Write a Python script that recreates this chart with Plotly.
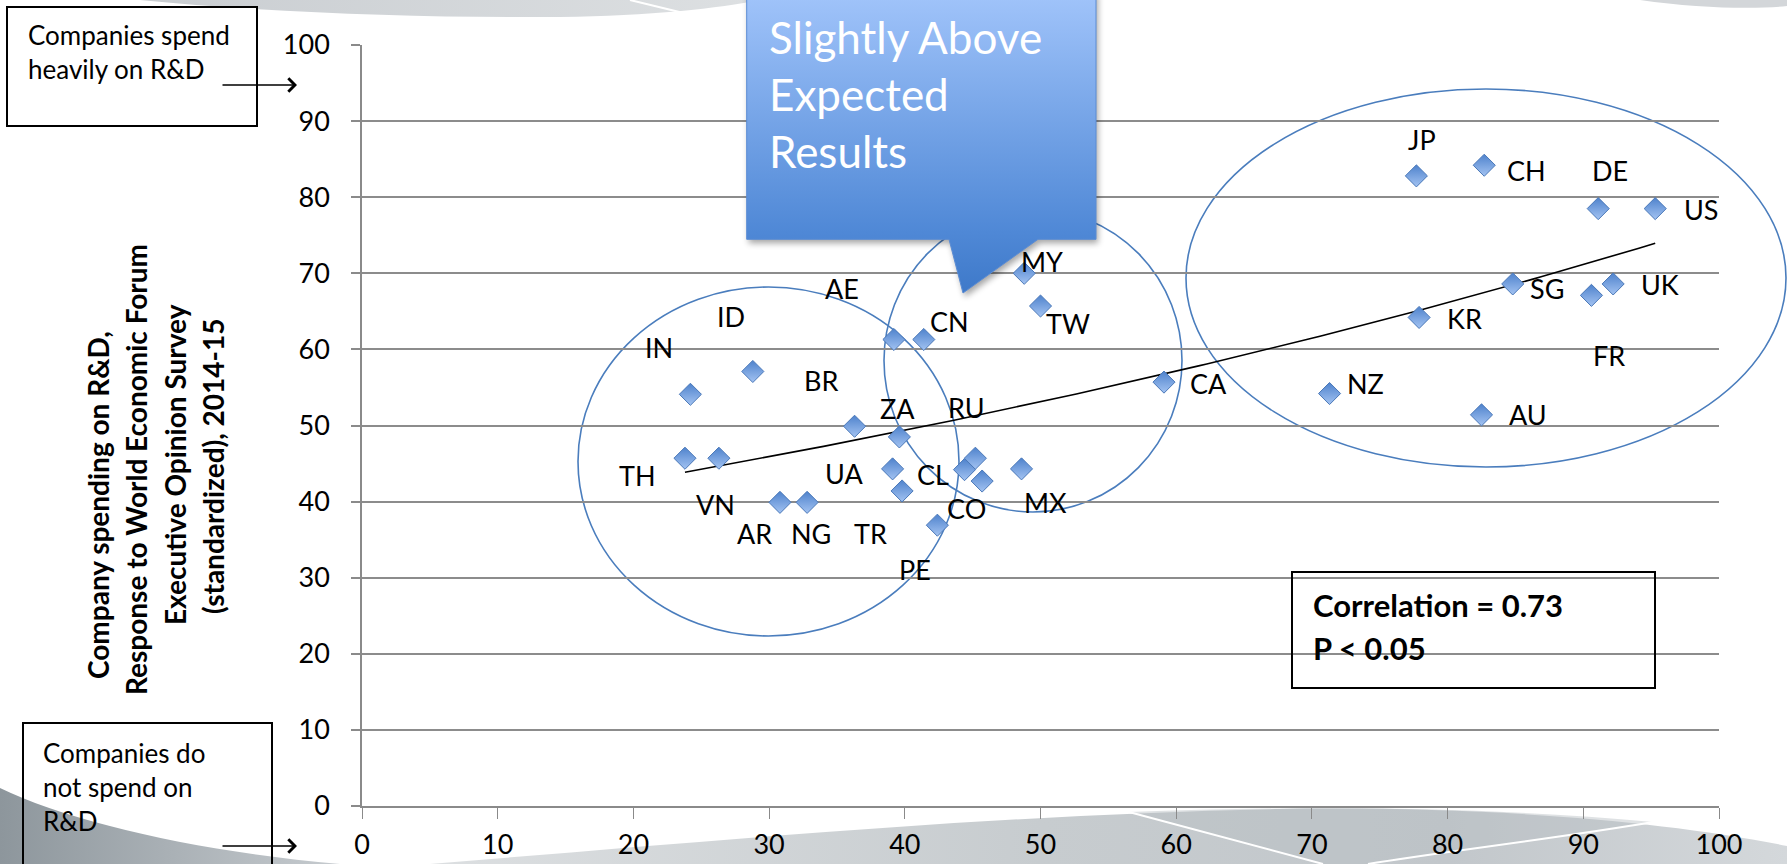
import base64
import numpy as np
import plotly.graph_objects as go

# ---------------- data ----------------
countries = ["TH", "VN", "IN", "ID", "AR", "NG", "BR", "ZA", "UA", "TR",
             "AE", "CN", "PE", "CL", "RU", "CO", "MX", "MY", "TW", "CA",
             "NZ", "JP", "KR", "CH", "AU", "SG", "FR", "DE", "UK", "US"]
x_vals = [23.8, 26.3, 24.2, 28.8, 30.8, 32.8, 36.3, 39.6, 39.1, 39.8,
          39.2, 41.4, 42.4, 44.4, 45.2, 45.7, 48.6, 48.8, 50.0, 59.1,
          71.3, 77.7, 77.9, 82.7, 82.5, 84.8, 90.6, 91.1, 92.2, 95.3]
y_vals = [45.7, 45.7, 54.1, 57.1, 39.9, 39.9, 49.9, 48.5, 44.3, 41.4,
          61.3, 61.3, 36.9, 44.2, 45.7, 42.7, 44.3, 70.0, 65.7, 55.7,
          54.2, 82.8, 64.2, 84.2, 51.4, 68.6, 67.1, 78.5, 68.6, 78.5]
x_ticks = [0, 10, 20, 30, 40, 50, 60, 70, 80, 90, 100]
y_ticks = [0, 10, 20, 30, 40, 50, 60, 70, 80, 90, 100]
y_title_lines = ["Company spending on R&D,", "Response to World Economic Forum",
                 "Executive Opinion Survey", "(standardized), 2014-15"]
callout_lines = ["Slightly Above", "Expected", "Results"]
stats_lines = ["Correlation = 0.73", "P < 0.05"]

# label offsets in screen pixels (dx right, dy down)
label_offsets = {
    "TH": (-47, 17), "VN": (-3, 46), "IN": (-31, -47), "ID": (-22, -55),
    "AR": (-25, 31), "NG": (4, 31), "BR": (-34, -46), "ZA": (-2, -28),
    "UA": (-49, 5), "TR": (-32, 43), "AE": (-52, -51), "CN": (26, -18),
    "PE": (-22, 44), "CL": (-32, 5), "RU": (-9, -51), "CO": (-16, 27),
    "MX": (24, 34), "MY": (18, -12), "TW": (27, 17), "CA": (45, 1),
    "NZ": (36, -10), "JP": (6, -36), "KR": (45, 1), "CH": (42, 5),
    "AU": (46, 0), "SG": (34, 5), "FR": (18, 60), "DE": (12, -38),
    "UK": (47, 1), "US": (46, 1),
}

# ---------------- geometry helpers ----------------
W, H = 1787, 864
L, R, T, B = 362, 1719, 45, 806
def px(v):
    return (v - L) / (R - L)
def py(v):
    return (B - v) / (B - T)

FONT = "Lato"

fig = go.Figure()

# exponential trend line (least squares on log y, as Excel does)
xa = np.array(x_vals)
ya = np.array(y_vals)
b_coef, ln_a = np.polyfit(xa, np.log(ya), 1)
xt = np.linspace(xa.min(), xa.max(), 120)
yt = np.exp(ln_a) * np.exp(b_coef * xt)
fig.add_trace(go.Scatter(x=xt, y=yt, mode="lines",
                         line=dict(color="black", width=1.6),
                         hoverinfo="skip", showlegend=False))

fig.add_trace(go.Scatter(
    x=x_vals, y=y_vals, mode="markers", text=countries,
    marker=dict(symbol="diamond", size=17, color="#4e82cc",
                gradient=dict(type="vertical", color="#a3c3f2"),
                line=dict(color="#4a78b8", width=1)),
    showlegend=False))

annotations = []
for c, xv, yv in zip(countries, x_vals, y_vals):
    dx, dy = label_offsets[c]
    annotations.append(dict(x=xv, y=yv, xref="x", yref="y", text=c,
                            showarrow=False, xshift=dx, yshift=-dy,
                            font=dict(family=FONT, size=27, color="black")))

# y-axis title (rotated lines)
title_pos = [(98, 505), (136, 470), (175, 465), (213, 467)]
for line, (cx, cy) in zip(y_title_lines, title_pos):
    annotations.append(dict(x=px(cx), y=py(cy), xref="paper", yref="paper",
                            text="<b>" + line + "</b>", textangle=-90,
                            showarrow=False, xanchor="center", yanchor="middle",
                            font=dict(family=FONT, size=28, color="black")))

# corner text boxes
annotations.append(dict(x=px(26), y=py(52), xref="paper", yref="paper",
                        text="Companies spend<br>heavily on R&D", align="left",
                        showarrow=False, xanchor="left", yanchor="middle",
                        font=dict(family=FONT, size=26, color="black")))
annotations.append(dict(x=px(41), y=py(787), xref="paper", yref="paper",
                        text="Companies do<br>not spend on<br>R&D", align="left",
                        showarrow=False, xanchor="left", yanchor="middle",
                        font=dict(family=FONT, size=26, color="black")))
for ty in (85, 846):
    annotations.append(dict(x=px(297), y=py(ty), xref="paper", yref="paper",
                            text="", showarrow=True, ax=-76, ay=0,
                            arrowhead=4, arrowsize=1.6, arrowwidth=1.6,
                            arrowcolor="black", standoff=0))

# statistics box text
for line, ly in zip(stats_lines, (605, 648)):
    annotations.append(dict(x=px(1311), y=py(ly), xref="paper", yref="paper",
                            text="<b>" + line + "</b>", showarrow=False,
                            xanchor="left", yanchor="middle",
                            font=dict(family=FONT, size=31, color="black")))

# callout text
for line, ly in zip(callout_lines, (37, 94, 151)):
    annotations.append(dict(x=px(767), y=py(ly), xref="paper", yref="paper",
                            text=line, showarrow=False,
                            xanchor="left", yanchor="middle",
                            font=dict(family=FONT, size=44, color="white")))

shapes = []
# ellipses
for (x0, x1, y0, y1) in [(578, 959, 287, 636), (884, 1182, 209, 512),
                         (1186, 1786, 89, 467)]:
    shapes.append(dict(type="circle", xref="paper", yref="paper",
                       x0=px(x0), x1=px(x1), y0=py(y1), y1=py(y0),
                       line=dict(color="#4a7dbd", width=1.6), layer="below"))
# boxes
shapes.append(dict(type="rect", xref="paper", yref="paper",
                   x0=px(7), x1=px(257), y0=py(126), y1=py(7),
                   line=dict(color="black", width=2), fillcolor="white",
                   layer="below"))
shapes.append(dict(type="rect", xref="paper", yref="paper",
                   x0=px(23), x1=px(272), y0=py(880), y1=py(723),
                   line=dict(color="black", width=2), layer="above"))
shapes.append(dict(type="rect", xref="paper", yref="paper",
                   x0=px(1292), x1=px(1655), y0=py(688), y1=py(572),
                   line=dict(color="black", width=2), layer="above"))

bg_svg = """<svg xmlns="http://www.w3.org/2000/svg" width="1787" height="864" viewBox="0 0 1787 864" preserveAspectRatio="none">
<defs>
<linearGradient id="g1" x1="0" y1="0" x2="1" y2="0"><stop offset="0" stop-color="#8d969c"/><stop offset="1" stop-color="#c6cbcf"/></linearGradient>
<linearGradient id="g2" x1="0" y1="0" x2="1" y2="0"><stop offset="0" stop-color="#dcdfe1"/><stop offset="0.45" stop-color="#c7cccf"/><stop offset="0.75" stop-color="#c2c7cb"/><stop offset="1" stop-color="#d4d8db"/></linearGradient>
<linearGradient id="g3" x1="0" y1="0" x2="1" y2="0"><stop offset="0" stop-color="#c9cdd1"/><stop offset="1" stop-color="#dde0e2"/></linearGradient>
</defs>
<path d="M0,788 C70,822 200,852 340,864 L0,864 Z" fill="url(#g1)"/>
<path d="M430,864 C700,842 1000,814 1280,809 C1480,806 1660,820 1787,846 L1787,864 Z" fill="url(#g2)"/>
<path d="M1129,812 L1323,864 L1368,864 C1440,852 1560,838 1653,822 C1480,806 1300,806 1129,812 Z" fill="#b9bfc4" opacity="0.45"/>
<path d="M1129,812 L1323,864" stroke="#ffffff" stroke-width="2" fill="none"/>
<path d="M1653,822 C1560,838 1440,852 1368,864" stroke="#ffffff" stroke-width="2" fill="none"/>
<path d="M140,0 C260,12 420,18 560,17 C650,16 720,8 760,0 Z" fill="url(#g3)"/>
<path d="M630,0 L700,17" stroke="#ffffff" stroke-width="2" fill="none"/>
<path d="M1640,0 C1700,9 1760,9 1787,6 L1787,0 Z" fill="#d3d6d9"/>
</svg>"""

callout_svg = """<svg xmlns="http://www.w3.org/2000/svg" width="1787" height="864" viewBox="0 0 1787 864" preserveAspectRatio="none">
<defs>
<linearGradient id="cg" gradientUnits="userSpaceOnUse" x1="0" y1="-10" x2="0" y2="293"><stop offset="0" stop-color="#a2c5fb"/><stop offset="0.8" stop-color="#4f88d6"/><stop offset="1" stop-color="#3e79c9"/></linearGradient>
<filter id="sh" x="-10%" y="-10%" width="130%" height="130%"><feGaussianBlur stdDeviation="3"/></filter>
</defs>
<path d="M746.7,-10 L1096,-10 L1096,239.3 L1038,239.3 L963,293 L949,239.3 L746.7,239.3 Z" transform="translate(2,4)" fill="#000000" opacity="0.35" filter="url(#sh)"/>
<path d="M746.7,-10 L1096,-10 L1096,239.3 L1038,239.3 L963,293 L949,239.3 L746.7,239.3 Z" fill="url(#cg)" stroke="#5b8cd4" stroke-width="1"/>
</svg>"""

def svg_uri(s):
    return "data:image/svg+xml;base64," + base64.b64encode(s.encode("utf-8")).decode("ascii")

full_img = dict(xref="paper", yref="paper", x=px(0), y=py(0),
                sizex=px(W) - px(0), sizey=py(0) - py(H),
                xanchor="left", yanchor="top", sizing="stretch")
images = [dict(source=svg_uri(bg_svg), layer="below", **full_img),
          dict(source=svg_uri(callout_svg), layer="above", **full_img)]

fig.update_layout(
    width=W, height=H, autosize=False,
    margin=dict(l=L, r=W - R, t=T, b=H - B, pad=0, autoexpand=False),
    paper_bgcolor="white", plot_bgcolor="rgba(0,0,0,0)",
    font=dict(family=FONT, color="black"),
    showlegend=False,
    annotations=annotations, shapes=shapes, images=images,
    xaxis=dict(range=[0, 100], tickvals=x_ticks, showgrid=False, zeroline=False,
               automargin=False,
               showline=True, linecolor="#8a8a8a", linewidth=2,
               ticks="outside", ticklen=11, tickwidth=1, tickcolor="#8a8a8a",
               ticklabelstandoff=3,
               tickfont=dict(family=FONT, size=27, color="black")),
    yaxis=dict(range=[0, 100], tickvals=y_ticks, showgrid=True,
               automargin=False,
               gridcolor="#8c8c8c", gridwidth=1.8, zeroline=False,
               showline=True, linecolor="#8a8a8a", linewidth=1.5,
               ticks="outside", ticklen=9, tickwidth=1.5, tickcolor="#8a8a8a",
               ticklabelstandoff=16,
               tickfont=dict(family=FONT, size=27, color="black")),
)

fig.write_html("out.html", config={"displayModeBar": False},
               post_script="document.body.style.margin='0';document.body.style.overflow='hidden';")
